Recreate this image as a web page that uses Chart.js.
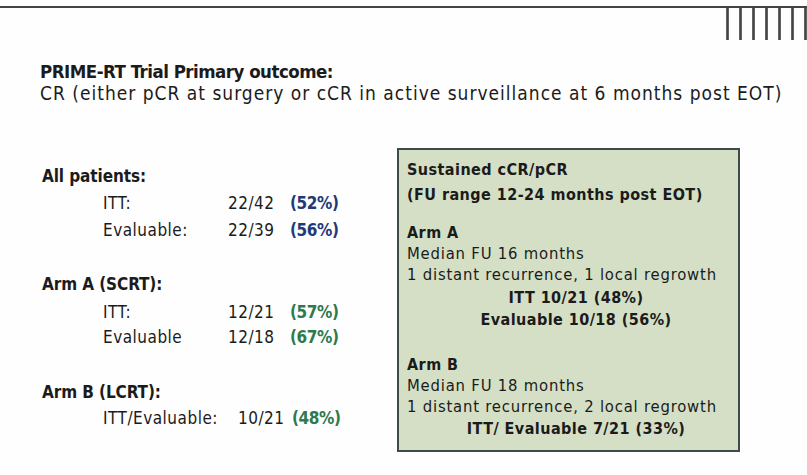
<!DOCTYPE html>
<html lang="en">
<head>
  <meta charset="UTF-8">
  <title>PRIME-RT Trial Primary outcome</title>
  <script src="https://cdn.jsdelivr.net/npm/chart.js"></script>
  <style>
    html, body {
      margin: 0;
      width: 807px;
      height: 475px;
      overflow: hidden;
      background: #fefefe;
      font-family: "DejaVu Sans Condensed", "DejaVu Sans", sans-serif;
      color: #1b1b1b;
    }
    .rule {
      position: absolute;
      left: 0;
      top: 6px;
      width: 807px;
      height: 2px;
      background: #444;
    }
    .stripes {
      position: absolute;
      left: 721px;
      top: 7px;
      width: 91px;
      height: 33px;
    }
    .t {
      position: absolute;
      white-space: nowrap;
      line-height: 20px;
      transform: translateY(-50%);
    }
    .title { font-size: 19px; letter-spacing: 1px; }
    .title.b { font-size: 18.5px; letter-spacing: -0.5px; }
    .left { font-size: 17px; letter-spacing: 0.5px; }
    .left.b { letter-spacing: -0.1px; }
    .b { font-weight: bold; }
    .blue { color: #1f3a78; font-weight: bold; letter-spacing: -0.4px !important; }
    .green { color: #2e7a4e; font-weight: bold; letter-spacing: -0.4px !important; }
    .box {
      position: absolute;
      left: 397px;
      top: 148px;
      width: 339px;
      height: 300px;
      background: #d4dfc5;
      border: 2px solid #3d4b4b;
    }
    .boxt { font-size: 16.5px; letter-spacing: 0.8px; }
    .boxt.b { font-size: 16px; letter-spacing: 0.45px; }
    .c { transform: translate(-50%, -50%); }
  </style>
</head>
<body>
  <div class="rule"></div>
  <div class="stripes"><canvas id="stripes"></canvas></div>
  <div class="box"></div>
  <div id="page"></div>

  <script>
    // slide text
    const titleLines = ['PRIME-RT Trial Primary outcome:',
      'CR (either pCR at surgery or cCR in active surveillance at 6 months post EOT)'];

    // left column: groups and their rows
    const groupTitles = ['All patients:', 'Arm A (SCRT):', 'Arm B (LCRT):'];
    const rowLabels = [['ITT:', 'Evaluable:'], ['ITT:', 'Evaluable'], ['ITT/Evaluable:']];
    const rowFractions = [['22/42', '22/39'], ['12/21', '12/18'], ['10/21']];
    const rowPercents = [['(52%)', '(56%)'], ['(57%)', '(67%)'], ['(48%)']];
    const groupColors = ['blue', 'green', 'green'];

    // right box
    const boxHeader = ['Sustained cCR/pCR', '(FU range 12-24 months post EOT)'];
    const armNames = ['Arm A', 'Arm B'];
    const armFollowUp = ['Median FU 16 months', 'Median FU 18 months'];
    const armEvents = ['1 distant recurrence, 1 local regrowth', '1 distant recurrence, 2 local regrowth'];
    const armResults = [['ITT 10/21 (48%)', 'Evaluable 10/18 (56%)'], ['ITT/ Evaluable 7/21 (33%)']];

    // decoration stripes in the corner
    const stripeCats = ['1', '2', '3', '4', '5', '6', '7'];
    const stripeValues = [1, 1, 1, 1, 1, 1, 1];

    const page = document.getElementById('page');
    function put(text, x, y, cls) {
      const d = document.createElement('div');
      d.className = 't ' + cls;
      d.textContent = text;
      d.style.left = x + 'px';
      d.style.top = y + 'px';
      page.appendChild(d);
    }

    put(titleLines[0], 40, 72, 'title b');
    put(titleLines[1], 40, 93, 'title');

    const groupY = [176, 284, 392];
    const rowY = [[203, 230], [312, 337], [418]];
    groupTitles.forEach((g, i) => {
      put(g, 42, groupY[i], 'left b');
      rowLabels[i].forEach((lab, j) => {
        const last = i === 2;
        put(lab, 103, rowY[i][j], 'left');
        put(rowFractions[i][j], last ? 238 : 228, rowY[i][j], 'left');
        put(rowPercents[i][j], last ? 292 : 290, rowY[i][j], 'left ' + groupColors[i]);
      });
    });

    put(boxHeader[0], 407, 170, 'boxt b');
    put(boxHeader[1], 407, 195, 'boxt b');
    const armY = [[233, 254, 275, [298, 320]], [365, 386, 407, [429]]];
    armNames.forEach((a, i) => {
      put(a, 407, armY[i][0], 'boxt b');
      put(armFollowUp[i], 407, armY[i][1], 'boxt');
      put(armEvents[i], 407, armY[i][2], 'boxt');
      armResults[i].forEach((r, j) => put(r, 576, armY[i][3][j], 'boxt b c'));
    });

    new Chart(document.getElementById('stripes'), {
      type: 'bar',
      data: {
        labels: stripeCats,
        datasets: [{
          data: stripeValues,
          backgroundColor: '#444',
          barThickness: 2
        }]
      },
      options: {
        responsive: true,
        maintainAspectRatio: false,
        animation: false,
        layout: { padding: 0 },
        plugins: { legend: { display: false }, tooltip: { enabled: false } },
        scales: {
          x: { display: false },
          y: { display: false, min: 0, max: 1 }
        }
      }
    });
  </script>
</body>
</html>
